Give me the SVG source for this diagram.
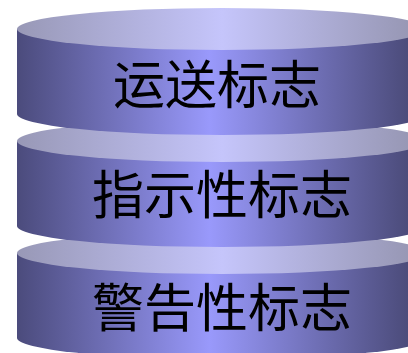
<svg xmlns="http://www.w3.org/2000/svg" width="408" height="353" viewBox="0 0 408 353">
<defs>
<linearGradient id="side" x1="0" y1="0" x2="1" y2="0">
<stop offset="0" stop-color="#4b4b7c"/>
<stop offset="0.47" stop-color="#9999fb"/>
<stop offset="1" stop-color="#44446e"/>
</linearGradient>
<linearGradient id="top" x1="0" y1="0" x2="1" y2="0">
<stop offset="0" stop-color="#9898b6"/>
<stop offset="0.5" stop-color="#c5c5fb"/>
<stop offset="1" stop-color="#9393ae"/>
</linearGradient>
<style>
.side{fill:url(#side)}
.top{fill:url(#top)}
.lbl{font-family:"Noto Sans CJK SC","Noto Sans CJK JP",sans-serif;font-size:52px;fill:#000;text-anchor:middle;dominant-baseline:central}
</style>
</defs>
<g id="cyl3">
<path class="side" d="M17,253 L17,338 A205,21 0 0 0 427,338 L427,253 Z"/>
<ellipse class="top" cx="222" cy="253" rx="205" ry="21"/>
<text class="lbl" x="222" y="304">警告性标志</text>
</g>
<g id="cyl2">
<path class="side" d="M17,141 L17,226 A205,21 0 0 0 427,226 L427,141 Z"/>
<ellipse class="top" cx="222" cy="141" rx="205" ry="21"/>
<text class="lbl" x="222" y="191">指示性标志</text>
</g>
<g id="cyl1">
<path class="side" d="M17,29 L17,114 A205,21 0 0 0 427,114 L427,29 Z"/>
<ellipse class="top" cx="222" cy="29" rx="205" ry="21"/>
<text class="lbl" x="217" y="81">运送标志</text>
</g>
</svg>
